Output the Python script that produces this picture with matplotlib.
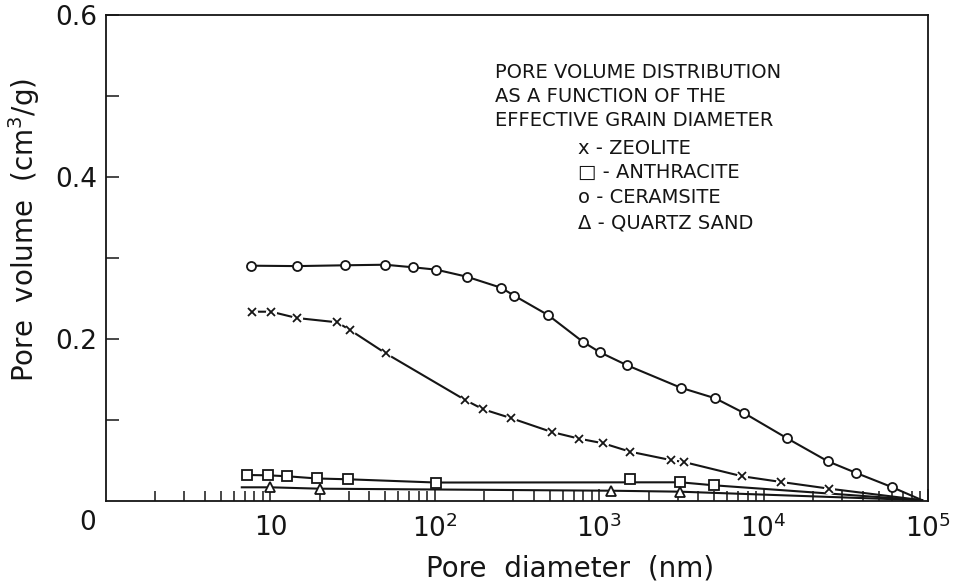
import numpy as np
import matplotlib
matplotlib.use('Agg')
from matplotlib import pyplot as plt

# values (pore diameter in nm, pore volume in cm3/g)
# last point of each series is where the curve runs into the axis (no marker)
ceramsite_d = [7.6, 14.5, 28.4, 49.8, 74, 102, 156, 253, 303, 490, 794, 1010, 1480,
               3130, 5080, 7600, 13900, 24600, 36600, 60100, 92000]
ceramsite_v = [0.2905, 0.290, 0.291, 0.2917, 0.2885, 0.2856, 0.277, 0.2633, 0.2537, 0.2294,
               0.1967, 0.1836, 0.1675, 0.1399, 0.1268, 0.1086, 0.0774, 0.049, 0.0346,
               0.0173, 0.001]

zeolite_d = [7.7, 10.1, 14.5, 25.5, 30.5, 50.3, 153, 197, 289, 514, 757, 1060, 1540,
             2720, 3280, 7420, 12770, 25100, 92000]
zeolite_v = [0.2337, 0.2337, 0.2259, 0.2206, 0.2111, 0.1823, 0.1247, 0.1132, 0.1025,
             0.0852, 0.0769, 0.0712, 0.0609, 0.0506, 0.0481, 0.0305, 0.0235, 0.0152, 0.001]

anthracite_d = [7.2, 9.7, 12.7, 19.2, 29.7, 102, 1540, 3110, 4970, 92000]
anthracite_v = [0.0321, 0.0317, 0.0305, 0.0278, 0.0268, 0.0228, 0.0268, 0.0231, 0.0194, 0.001]
anthracite_off_curve = [6]  # point drawn above the fitted curve

quartz_d = [6.7, 10.0, 19.9, 1180, 3110, 92000]
quartz_v = [0.0169, 0.0169, 0.0152, 0.0127, 0.0115, 0.001]

legend_head = ['PORE VOLUME DISTRIBUTION', 'AS A FUNCTION OF THE', 'EFFECTIVE GRAIN DIAMETER']
legend_items = ['x - ZEOLITE', '\u25a1 - ANTHRACITE', 'o - CERAMSITE', '\u0394 - QUARTZ SAND']

xticks = [10, 1e2, 1e3, 1e4, 1e5]
xticklabels = ['10', r'10$^2$', r'10$^3$', r'10$^4$', r'10$^5$']
yticks = [0.2, 0.4, 0.6]
yticklabels = ['0.2', '0.4', '0.6']

ink = '#151515'
plt.rcParams['font.family'] = ['DejaVu Sans']
plt.rcParams['mathtext.fontset'] = 'dejavusans'

fig = plt.figure(figsize=(9.57, 5.81), dpi=100)
ax = fig.add_axes([106 / 957, 1 - 501 / 581, 822 / 957, 486 / 581])

# ceramsite
ax.plot(ceramsite_d, ceramsite_v, '-', color=ink, lw=1.5, zorder=2)
ax.plot(ceramsite_d[:-1], ceramsite_v[:-1], 'o', ms=6.5, mfc='white', mec=ink, mew=1.3, zorder=4)

# zeolite: line broken around the x markers
ax.plot(zeolite_d, zeolite_v, '-', color=ink, lw=1.5, zorder=2)
ax.plot(zeolite_d[:-1], zeolite_v[:-1], 'o', ms=8, mfc='white', mec='none', zorder=3)
ax.plot(zeolite_d[:-1], zeolite_v[:-1], 'x', ms=6, mec=ink, mew=1.3, zorder=4)

# anthracite
curve = [i for i in range(len(anthracite_d)) if i not in anthracite_off_curve]
ax.plot([anthracite_d[i] for i in curve], [anthracite_v[i] for i in curve], '-',
        color=ink, lw=1.5, zorder=2)
ax.plot(anthracite_d[:-1], anthracite_v[:-1], 's', ms=7, mfc='white', mec=ink, mew=1.3, zorder=4)

# quartz sand
ax.plot(quartz_d, quartz_v, '-', color=ink, lw=1.5, zorder=2)
ax.plot(quartz_d[1:-1], quartz_v[1:-1], '^', ms=6.5, mfc='white', mec=ink, mew=1.3, zorder=4)

ax.set_xscale('log')
ax.set_xlim(1, 1e5)
ax.set_ylim(0, 0.6)
ax.set_xticks(xticks)
ax.set_xticklabels(xticklabels)
ax.set_yticks(yticks)
ax.set_yticklabels(yticklabels)
ax.set_yticks([0.1, 0.3, 0.5], minor=True)
ax.tick_params(axis='both', which='both', direction='in', colors=ink, labelsize=19, width=1.1)
ax.tick_params(axis='x', which='major', length=9, pad=10)
ax.tick_params(axis='x', which='minor', length=7)
ax.tick_params(axis='y', which='both', length=9, pad=6)
for s in ax.spines.values():
    s.set_color(ink)
    s.set_linewidth(1.3)

# origin label
fig.text(88 / 957, 1 - 523 / 581, '0', fontsize=19, color=ink, ha='center', va='center')
fig.text(24 / 957, 1 - 230 / 581, r'Pore  volume  (cm$^3$/g)', fontsize=20, color=ink,
         rotation=90, ha='center', va='center')
fig.text(570 / 957, 1 - 568 / 581, 'Pore  diameter  (nm)', fontsize=20, color=ink,
         ha='center', va='center')

head_y = [72, 96, 120]
for txt, yy in zip(legend_head, head_y):
    fig.text(495 / 957, 1 - yy / 581, txt, fontsize=14, color=ink, ha='left', va='center')
item_y = [148, 172, 198, 223]
for txt, yy in zip(legend_items, item_y):
    fig.text(578 / 957, 1 - yy / 581, txt, fontsize=14, color=ink, ha='left', va='center')

fig.savefig('out.png', dpi=100, facecolor='white')
